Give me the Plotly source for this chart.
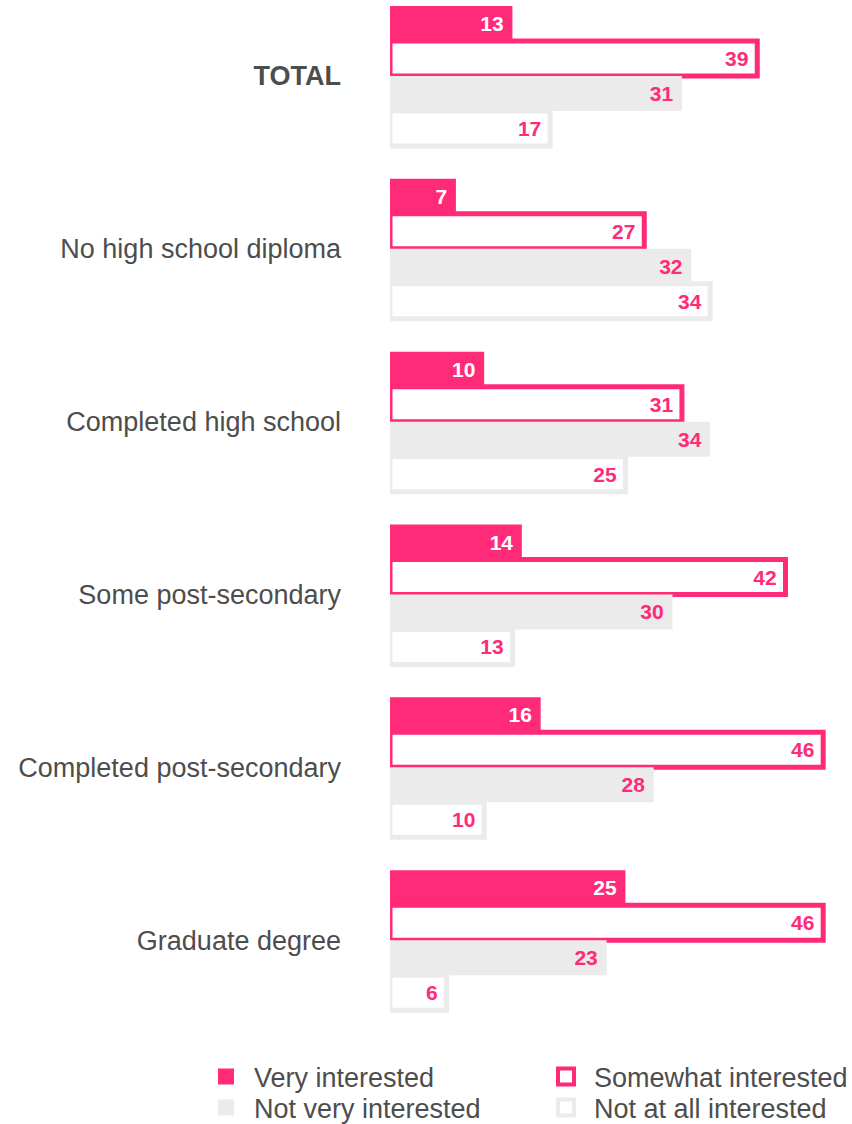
import plotly.graph_objects as go

categories = ["<b>TOTAL</b>", "No high school diploma", "Completed high school",
              "Some post-secondary", "Completed post-secondary", "Graduate degree"]
very_interested = [13, 7, 10, 14, 16, 25]
somewhat_interested = [39, 27, 31, 42, 46, 46]
not_very_interested = [31, 32, 34, 30, 28, 23]
not_at_all_interested = [17, 34, 25, 13, 10, 6]

PINK = "#FF2A78"
GRAY = "#EBEBEB"
TXT = "#4D4D4D"
FONT = "Liberation Sans, Arial, sans-serif"

series = [
    ("Very interested", very_interested, PINK, PINK, 0, "white"),
    ("Somewhat interested", somewhat_interested, "white", PINK, 5, PINK),
    ("Not very interested", not_very_interested, GRAY, GRAY, 0, PINK),
    ("Not at all interested", not_at_all_interested, "white", GRAY, 5, PINK),
]

fig = go.Figure()
for name, vals, fill, line, lw, tcol in series:
    fig.add_trace(go.Bar(
        y=categories, x=vals, orientation="h", name=name,
        marker=dict(color=fill, line=dict(color=line, width=lw)),
        text=[f"{v}\u00a0" for v in vals], textposition="inside",
        insidetextanchor="end", textangle=0, constraintext="none",
        textfont=dict(family=FONT, size=21, color=tcol, weight="bold"),
        showlegend=False, hoverinfo="skip",
    ))

# legend entries: one legend per entry, laid out in a 2x2 grid
legend_ids = ["legend", "legend2", "legend3", "legend4"]
legend_x = [-0.4248, 0.3274, -0.4248, 0.3274]
legend_y = [-0.0456, -0.0456, -0.0757, -0.0757]
for (name, vals, fill, line, lw, tcol), lid in zip(series, legend_ids):
    fig.add_trace(go.Scatter(
        x=[None], y=[None], mode="markers", name=name, legend=lid,
        marker=dict(symbol="square", size=16, color=fill,
                    line=dict(color=line, width=4 if lw else 0)),
        showlegend=True, hoverinfo="skip",
    ))

legend_layout = {}
for lid, lx, ly in zip(legend_ids, legend_x, legend_y):
    legend_layout[lid] = dict(
        orientation="h", x=lx, xanchor="left", y=ly, yanchor="middle",
        itemwidth=46, bgcolor="rgba(0,0,0,0)",
        font=dict(family=FONT, size=27, color=TXT),
        itemclick=False, itemdoubleclick=False,
    )

fig.update_layout(
    width=852, height=1124,
    margin=dict(l=390, r=10, t=0, b=94, autoexpand=False),
    plot_bgcolor="white", paper_bgcolor="white",
    barmode="group", bargap=0.19, bargroupgap=0,
    font=dict(family=FONT, color=TXT),
    xaxis=dict(range=[0, 48], visible=False, fixedrange=True),
    yaxis=dict(type="category", range=[5.52, -0.44], showgrid=False,
               zeroline=False, showline=False, ticks="",
               ticklabelstandoff=48,
               tickfont=dict(family=FONT, size=27, color=TXT)),
    showlegend=True,
    **legend_layout,
)

fig.write_html("out.html")
